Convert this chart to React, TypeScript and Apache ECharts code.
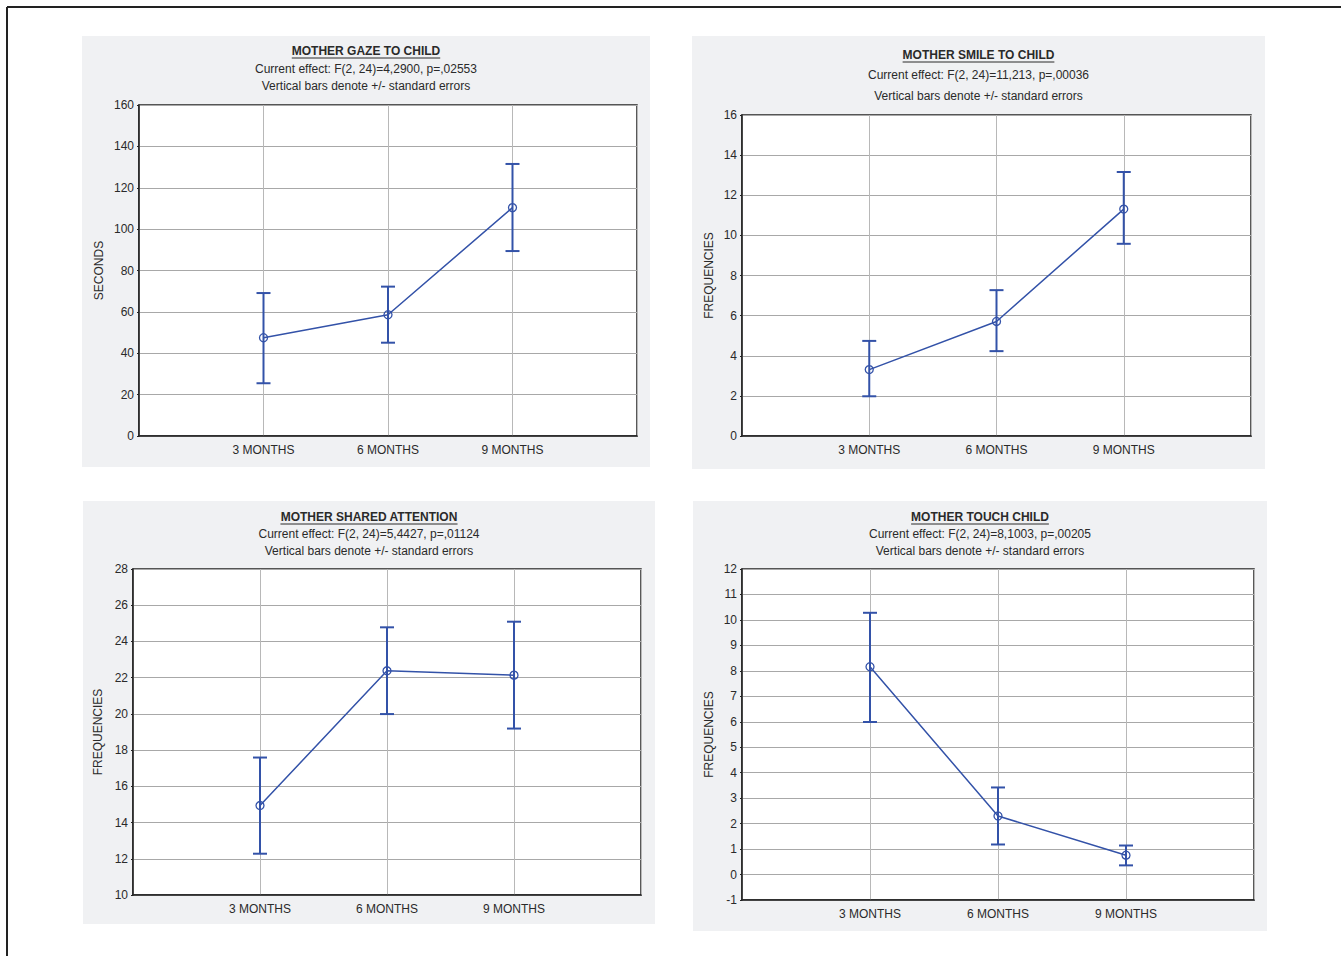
import React, { useEffect, useRef } from "react";
import * as echarts from "echarts";

const categories = ["3 MONTHS", "6 MONTHS", "9 MONTHS"];
const axisCategories = ["", ...categories, ""];

const gazeMean = [47.5, 58.6, 110.4];
const gazeLow = [25.5, 45.1, 89.4];
const gazeHigh = [69.1, 72.2, 131.5];

const smileMean = [3.31, 5.71, 11.31];
const smileLow = [1.98, 4.23, 9.58];
const smileHigh = [4.74, 7.27, 13.16];

const sharedMean = [14.94, 22.38, 22.14];
const sharedLow = [12.28, 19.99, 19.19];
const sharedHigh = [17.59, 24.78, 25.09];

const touchMean = [8.16, 2.3, 0.76];
const touchLow = [5.99, 1.18, 0.36];
const touchHigh = [10.28, 3.42, 1.14];

const titles = ["MOTHER GAZE TO CHILD", "MOTHER SMILE TO CHILD", "MOTHER SHARED ATTENTION", "MOTHER TOUCH CHILD"];
const effects = [
  "Current effect: F(2, 24)=4,2900, p=,02553",
  "Current effect: F(2, 24)=11,213, p=,00036",
  "Current effect: F(2, 24)=5,4427, p=,01124",
  "Current effect: F(2, 24)=8,1003, p=,00205",
];
const noteText = "Vertical bars denote +/- standard errors";
const yNames = ["SECONDS", "FREQUENCIES", "FREQUENCIES", "FREQUENCIES"];
const yMin = [0, 0, 10, -1];
const yMax = [160, 16, 28, 12];
const yInterval = [20, 2, 2, 1];

const FONT = "'Liberation Sans', Arial, Helvetica, sans-serif";
const BLUE = "#3352a8";
const TXT = "#2a2a2a";

const panels = [
  { bg: [82, 36, 568, 431], grid: [139, 105, 498, 331], tY: [51, 69, 86], nameGap: 34 },
  { bg: [692, 36, 573, 433], grid: [742, 115, 509, 321], tY: [55, 75, 96], nameGap: 27 },
  { bg: [83, 501, 572, 423], grid: [133, 569, 508, 326], tY: [517, 534, 551], nameGap: 29 },
  { bg: [693, 501, 574, 430], grid: [742, 569, 512, 331], tY: [517, 534, 551], nameGap: 27 },
];

const means = [gazeMean, smileMean, sharedMean, touchMean];
const lows = [gazeLow, smileLow, sharedLow, touchLow];
const highs = [gazeHigh, smileHigh, sharedHigh, touchHigh];

function measure(text: string, font: string): number {
  const c = document.createElement("canvas");
  const ctx = c.getContext("2d");
  if (!ctx) return text.length * 7;
  ctx.font = font;
  return ctx.measureText(text).width;
}

export default function App() {
  const ref = useRef<HTMLDivElement>(null);
  useEffect(() => {
    if (!ref.current) return;
    const chart = echarts.init(ref.current, null, { renderer: "svg" });

    const graphic: any[] = [
      { type: "line", shape: { x1: 7, y1: 7, x2: 1341, y2: 7 }, style: { stroke: "#222", lineWidth: 2 }, z: 0 },
      { type: "line", shape: { x1: 7, y1: 7, x2: 7, y2: 956 }, style: { stroke: "#222", lineWidth: 2 }, z: 0 },
    ];
    const grids: any[] = [];
    const xAxes: any[] = [];
    const yAxes: any[] = [];
    const series: any[] = [];

    panels.forEach((p, i) => {
      const [bx, by, bw, bh] = p.bg;
      const cx = bx + bw / 2;
      graphic.push({
        type: "rect",
        shape: { x: bx, y: by, width: bw, height: bh },
        style: { fill: "#f0f1f3" },
        z: -10,
        silent: true,
      });
      const titleFont = `bold 12px ${FONT}`;
      const tw = measure(titles[i], titleFont);
      graphic.push({
        type: "text",
        x: cx,
        y: p.tY[0],
        style: { text: titles[i], font: titleFont, fill: TXT, align: "center", verticalAlign: "middle" },
      });
      graphic.push({
        type: "line",
        shape: { x1: cx - tw / 2, y1: p.tY[0] + 7, x2: cx + tw / 2, y2: p.tY[0] + 7 },
        style: { stroke: TXT, lineWidth: 1 },
      });
      graphic.push({
        type: "text",
        x: cx,
        y: p.tY[1],
        style: { text: effects[i], font: `12px ${FONT}`, fill: TXT, align: "center", verticalAlign: "middle" },
      });
      graphic.push({
        type: "text",
        x: cx,
        y: p.tY[2],
        style: { text: noteText, font: `12px ${FONT}`, fill: TXT, align: "center", verticalAlign: "middle" },
      });

      const [gl, gt, gw, gh] = p.grid;
      grids.push({
        left: gl,
        top: gt,
        width: gw,
        height: gh,
        show: true,
        backgroundColor: "#ffffff",
        borderColor: "#222",
        borderWidth: 1.5,
        containLabel: false,
      });
      xAxes.push({
        type: "category",
        gridIndex: i,
        data: axisCategories,
        boundaryGap: false,
        axisLine: { show: true, onZero: false, lineStyle: { color: "#222", width: 1.5 } },
        axisTick: { show: false },
        axisLabel: { color: TXT, fontSize: 12, fontFamily: FONT, margin: 8, interval: 0 },
        splitLine: { show: true, lineStyle: { color: "#b8b8b8", width: 1 } },
      });
      yAxes.push({
        type: "value",
        gridIndex: i,
        min: yMin[i],
        max: yMax[i],
        interval: yInterval[i],
        name: yNames[i],
        nameLocation: "middle",
        nameRotate: 90,
        nameGap: p.nameGap,
        nameTextStyle: { color: TXT, fontSize: 12, fontFamily: FONT },
        axisLine: { show: true, onZero: false, lineStyle: { color: "#222", width: 1.5 } },
        axisTick: { show: true, length: 2, lineStyle: { color: "#222" } },
        axisLabel: { color: TXT, fontSize: 12, fontFamily: FONT, margin: 5 },
        splitLine: { show: true, lineStyle: { color: "#a8a8a8", width: 1.2 } },
      });
      series.push({
        type: "line",
        xAxisIndex: i,
        yAxisIndex: i,
        data: categories.map((c, k) => [c, means[i][k]]),
        symbol: "circle",
        symbolSize: 8,
        itemStyle: { color: "transparent", borderColor: BLUE, borderWidth: 1.3 },
        lineStyle: { color: BLUE, width: 1.5 },
        z: 3,
      });
      series.push({
        type: "custom",
        xAxisIndex: i,
        yAxisIndex: i,
        z: 4,
        data: categories.map((c, k) => [k + 1, lows[i][k], highs[i][k]]),
        renderItem: (params: any, api: any) => {
          const x = api.value(0);
          const lo = api.coord([x, api.value(1)]);
          const hi = api.coord([x, api.value(2)]);
          const hw = 7;
          const st = { stroke: BLUE, lineWidth: 2 };
          return {
            type: "group",
            children: [
              { type: "line", shape: { x1: lo[0], y1: lo[1], x2: hi[0], y2: hi[1] }, style: st },
              { type: "line", shape: { x1: hi[0] - hw, y1: hi[1], x2: hi[0] + hw, y2: hi[1] }, style: st },
              { type: "line", shape: { x1: lo[0] - hw, y1: lo[1], x2: lo[0] + hw, y2: lo[1] }, style: st },
            ],
          };
        },
      });
    });

    chart.setOption({
      animation: false,
      backgroundColor: "#ffffff",
      grid: grids,
      xAxis: xAxes,
      yAxis: yAxes,
      series,
      graphic,
    });
    return () => chart.dispose();
  }, []);

  return (
    <div
      ref={ref}
      style={{ position: "absolute", left: 0, top: 0, width: 1341, height: 956 }}
    />
  );
}
